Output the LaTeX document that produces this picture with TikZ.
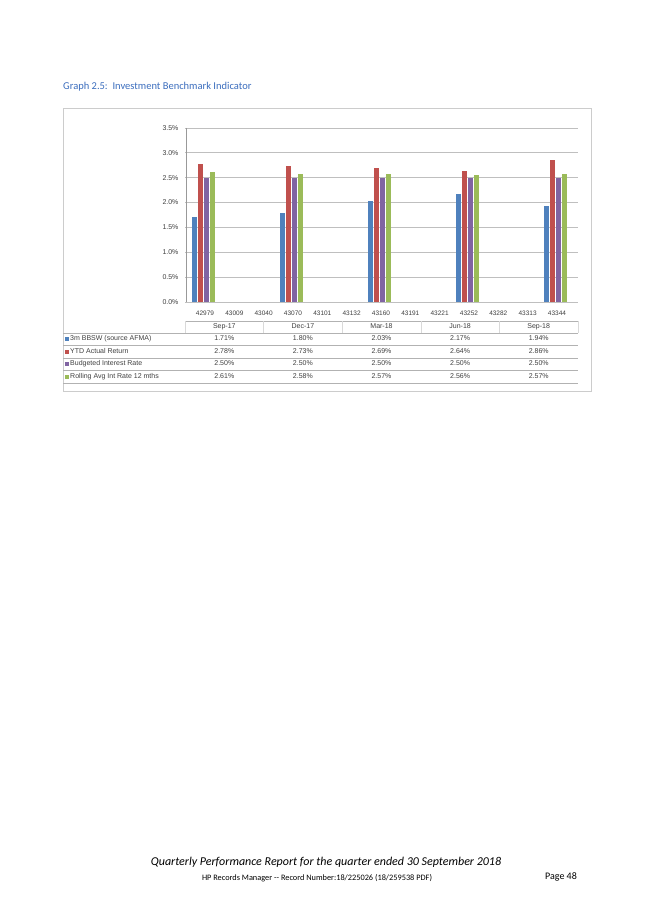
\documentclass[tikz,border=0pt]{standalone}
\usepackage{fontspec}
\setmainfont{Liberation Sans}
\newfontfamily\calfnt{Carlito}
\definecolor{cb}{HTML}{4F81BD}
\definecolor{cr}{HTML}{C0504D}
\definecolor{cp}{HTML}{8064A2}
\definecolor{cg}{HTML}{9BBB59}
\definecolor{ttl}{RGB}{60,110,190}
\begin{document}
\begin{tikzpicture}[x=1pt,y=-1pt,
  grid/.style={draw=black!25,line width=0.8pt},
  tl/.style={draw=black!30,line width=0.5pt},
  ax/.style={font=\fontsize{7}{8}\selectfont,text=black!75},
  tx/.style={font=\fontsize{7}{8}\selectfont,text=black!75,inner sep=0pt,text height=5pt,text depth=1.5pt}]
\useasboundingbox (0,0) rectangle (653,923);
\fill[white] (0,0) rectangle (653,923);
\node[anchor=west,inner sep=0pt,text=ttl,font=\calfnt\fontsize{10.5}{12}\selectfont] (title) at (63,87) {Graph 2.5:\ \ Investment Benchmark Indicator};
\draw[black!20] (63,108) rectangle (591,391);
% grid
\foreach \i/\l in {0/0.0,1/0.5,2/1.0,3/1.5,4/2.0,5/2.5,6/3.0,7/3.5}{
  \pgfmathsetmacro\yy{302-24.86*\i}
  \draw[grid] (185,\yy) -- (578,\yy);
  \node[ax,anchor=east] (y\i) at (182,\yy) {\l\%};
}
\draw[black!40] (186,128) -- (186,302);
% category labels
\foreach \n [count=\k from 0] in {42979,43009,43040,43070,43101,43132,43160,43191,43221,43252,43282,43313,43344}{
  \node[ax,font=\fontsize{6.5}{8}\selectfont] (c\k) at (205+29.33*\k,313) {\n};
}
% bars
\foreach \g/\a/\b/\c/\d in {0/1.71/2.78/2.50/2.61,3/1.80/2.73/2.50/2.58,6/2.03/2.69/2.50/2.57,9/2.17/2.64/2.50/2.56,12/1.94/2.86/2.50/2.57}{
  \pgfmathsetmacro\xx{205+29.33*\g-13}
  \fill[cb] (\xx,302) rectangle ++(5,-49.72*\a);
  \fill[cr] (\xx+6,302) rectangle ++(5,-49.72*\b);
  \fill[cp] (\xx+12,302) rectangle ++(5,-49.72*\c);
  \fill[cg] (\xx+18,302) rectangle ++(5,-49.72*\d);
}
% table
\draw[tl] (185,321) -- (578,321);
\foreach \yy in {333,345.5,358,370.5,383}{\draw[tl] (63,\yy) -- (578,\yy);}
\foreach \j in {0,...,5}{\draw[black!15] (185+78.6*\j,321) -- (185+78.6*\j,333);}
\foreach \h [count=\j from 0] in {Sep-17,Dec-17,Mar-18,Jun-18,Sep-18}{
  \node[tx] (h\j) at (224.3+78.6*\j,327) {\h};
}
\foreach \nm/\col/\vals [count=\r from 0] in {
  {3m BBSW (source AFMA)}/cb/{1.71,1.80,2.03,2.17,1.94},
  {YTD Actual Return}/cr/{2.78,2.73,2.69,2.64,2.86},
  {Budgeted Interest Rate}/cp/{2.50,2.50,2.50,2.50,2.50},
  {Rolling Avg Int Rate 12 mths}/cg/{2.61,2.58,2.57,2.56,2.57}}{
  \pgfmathsetmacro\yy{339.2+12.5*\r}
  \fill[\col] (64.5,\yy-2) rectangle ++(4,4);
  \node[tx,anchor=west] (r\r) at (70,\yy) {\nm};
  \foreach \v [count=\j from 0] in \vals {
    \node[tx] at (224.3+78.6*\j,\yy) {\v\%};
  }
}
% footer
\node[font=\calfnt\itshape\fontsize{12}{14}\selectfont,inner sep=0pt] (f1) at (326,862) {Quarterly Performance Report for the quarter ended 30 September 2018};
\node[font=\calfnt\fontsize{8.3}{10}\selectfont,inner sep=0pt] (f2) at (317,878) {HP Records Manager -- Record Number:18/225026 (18/259538 PDF)};
\node[font=\calfnt\fontsize{10}{12}\selectfont,inner sep=0pt] (pg) at (561,877) {Page 48};
\end{tikzpicture}
\end{document}
